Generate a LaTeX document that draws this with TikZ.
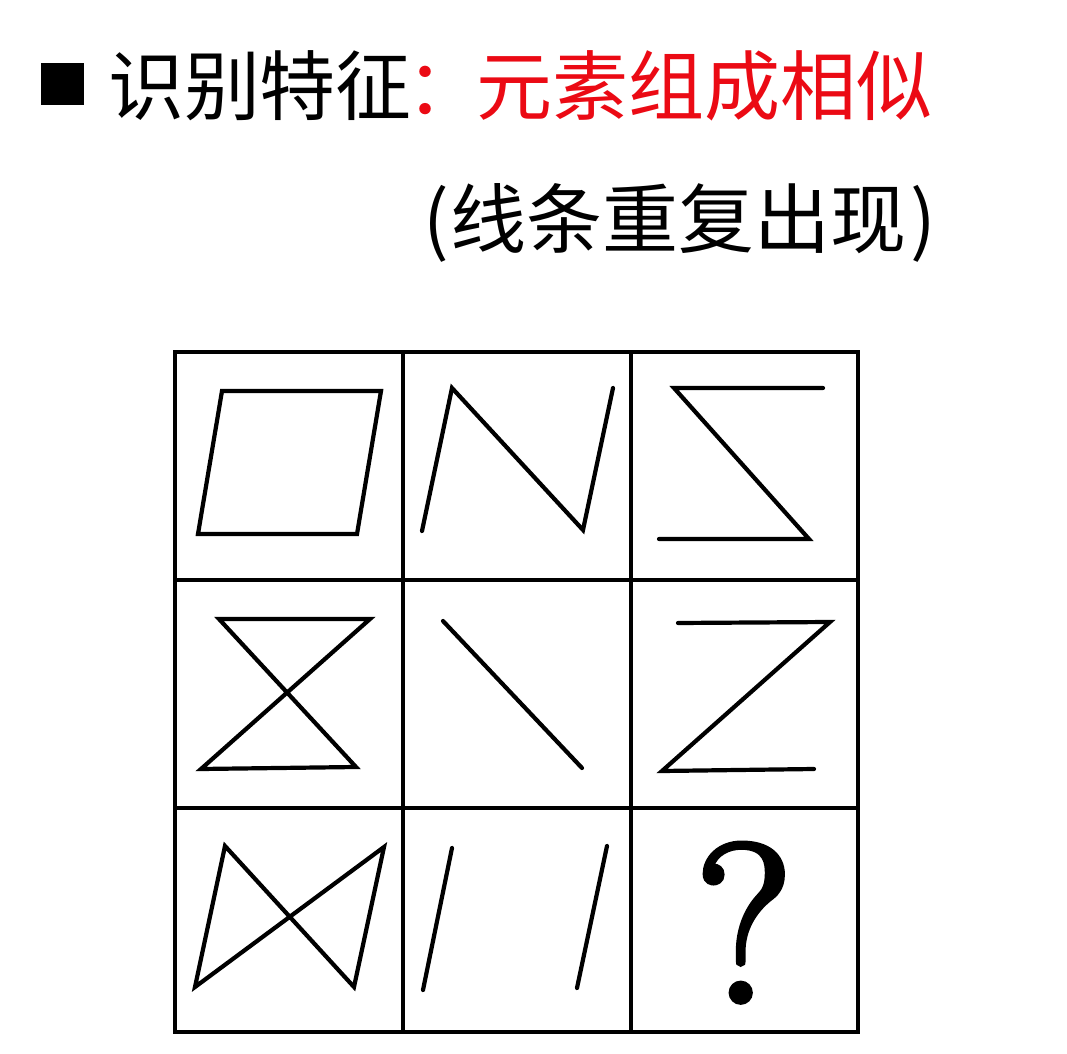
\documentclass[tikz,border=0pt]{standalone}
\usepackage{fontspec}
\newfontfamily\cjk{Noto Sans CJK SC}
\newfontfamily\qfont[FakeBold=2.5]{Latin Modern Roman}
\definecolor{hired}{RGB}{235,10,20}
\begin{document}
\begin{tikzpicture}[x=0.5pt,y=-0.5pt,
  gridline/.style={line width=2.4pt,line join=miter},
  figline/.style={line width=2.1pt,line join=miter,line cap=round},
  txt/.style={inner sep=0pt,outer sep=0pt,font=\cjk\fontsize{38pt}{44pt}\selectfont}]
\useasboundingbox[fill=white] (0,0) rectangle (1067,1054);
% title
\fill[black] (41,63) rectangle (84,105);
\node[txt,anchor=base west] (title) at (108,115) {识别特征\kern-2.5pt\textcolor{hired}{：\kern-3.5pt元素组成相似}};
\node[txt,anchor=base west] (sub) at (423,248) {(\kern1pt线条重复出现\kern2pt)};
% grid
\draw[gridline] (175,352) rectangle (858,1032);
\draw[gridline] (403,352) -- (403,1032);
\draw[gridline] (631,352) -- (631,1032);
\draw[gridline] (175,580) -- (858,580);
\draw[gridline] (175,808) -- (858,808);
% row 1
\draw[figline] (222,391) -- (381,391) -- (357,534) -- (198,534) -- cycle;
\draw[figline] (422,531) -- (452,388) -- (583,530) -- (613,388);
\draw[figline] (823,388) -- (674,388) -- (809,539) -- (659,539);
% row 2
\draw[figline] (219,619) -- (370,619) -- (201,769) -- (356,767) -- cycle;
\draw[figline] (443,621) -- (582,768);
\draw[figline] (678,623) -- (830,622) -- (662,771) -- (814,769);
% row 3
\draw[figline] (195,987) -- (225,846) -- (354,987) -- (384,847) -- cycle;
\draw[figline] (452,848) -- (423,990);
\draw[figline] (607,846) -- (577,988);
\node[inner sep=0pt,anchor=base,font=\qfont\fontsize{113pt}{116pt}\selectfont] (q) at (744,1002) {?};
\end{tikzpicture}
\end{document}
